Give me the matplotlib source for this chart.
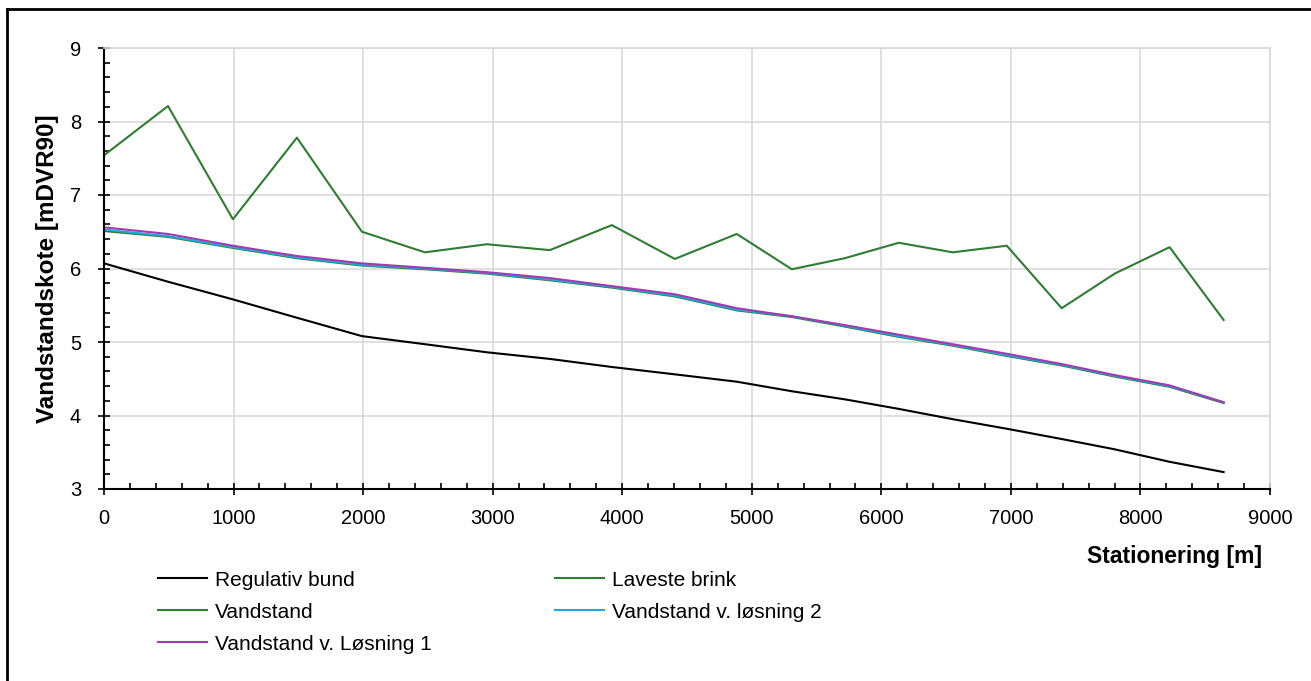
"""
Vandstandsprofil langs vandløbet: regulativ bund, laveste brink og
beregnede vandstande for eksisterende forhold og de to løsninger.
"""

import matplotlib.pyplot as plt
from matplotlib.lines import Line2D
from matplotlib.ticker import MultipleLocator

plt.rcParams["font.family"] = ["Liberation Sans", "DejaVu Sans"]

# Stationering [m]
station = [0, 494, 995, 1489, 1991, 2477, 2955, 3441, 3920, 4406,
           4884, 5309, 5718, 6134, 6551, 6968, 7392, 7801, 8225, 8642]

# Koter [mDVR90]
regulativ_bund = [6.07, 5.82, 5.58, 5.33, 5.08, 4.97, 4.86, 4.77, 4.66, 4.56,
                  4.46, 4.33, 4.22, 4.09, 3.95, 3.82, 3.68, 3.54, 3.37, 3.23]
laveste_brink = [7.54, 8.21, 6.67, 7.78, 6.50, 6.22, 6.33, 6.25, 6.59, 6.13,
                 6.47, 5.99, 6.14, 6.35, 6.22, 6.31, 5.46, 5.93, 6.29, 5.30]
vandstand = [6.51, 6.43, 6.28, 6.14, 6.04, 5.99, 5.93, 5.84, 5.74, 5.62,
             5.43, 5.34, 5.21, 5.07, 4.95, 4.81, 4.68, 4.53, 4.39, 4.17]
vandstand_l2 = [6.53, 6.44, 6.29, 6.15, 6.05, 6.00, 5.94, 5.85, 5.75, 5.63,
                5.44, 5.35, 5.22, 5.08, 4.96, 4.82, 4.69, 4.54, 4.40, 4.18]
vandstand_l1 = [6.56, 6.47, 6.31, 6.17, 6.07, 6.01, 5.95, 5.87, 5.76, 5.65,
                5.46, 5.35, 5.23, 5.10, 4.97, 4.84, 4.70, 4.55, 4.41, 4.18]

BLACK = "#000000"
GREEN = "#2e7d32"
BLUE = "#1ea7e1"
PURPLE = "#a23bb0"

fig = plt.figure(figsize=(13.11, 6.81), dpi=100)
ax = fig.add_axes([104 / 1311, 1 - 489 / 681, (1270 - 104) / 1311, (489 - 48) / 681])

ax.plot(station, regulativ_bund, color=BLACK, lw=1.5)
ax.plot(station, laveste_brink, color=GREEN, lw=1.5)
ax.plot(station, vandstand, color=GREEN, lw=1.5)
ax.plot(station, vandstand_l2, color=BLUE, lw=1.5)
ax.plot(station, vandstand_l1, color=PURPLE, lw=1.5)

ax.set_xlim(0, 9000)
ax.set_ylim(3, 9)
ax.xaxis.set_major_locator(MultipleLocator(1000))
ax.xaxis.set_minor_locator(MultipleLocator(200))
ax.yaxis.set_major_locator(MultipleLocator(1))
ax.yaxis.set_minor_locator(MultipleLocator(0.2))
ax.tick_params(which="major", direction="inout", length=9, width=1.2,
               labelsize=14.5, pad=10)
ax.tick_params(axis="y", which="major", pad=12)
ax.tick_params(which="minor", direction="in", length=4, width=1.2)
ax.grid(which="major", color="#d9d9d9", lw=1.2)
ax.set_axisbelow(True)

for side in ("top", "right"):
    ax.spines[side].set_color("#d9d9d9")
    ax.spines[side].set_linewidth(1.2)
for side in ("left", "bottom"):
    ax.spines[side].set_linewidth(1.5)

ax.set_ylabel("Vandstandskote [mDVR90]", fontsize=17.5, fontweight="bold", labelpad=8)
fig.text(1262 / 1311, 1 - 556 / 681, "Stationering [m]", fontsize=16.5,
         fontweight="bold", ha="right", va="center")

# Legenden udfyldes kolonnevis, så rækkefølgen stilles om for at læse rækkevis
handles = [
    Line2D([], [], color=BLACK, lw=1.5, label="Regulativ bund"),
    Line2D([], [], color=GREEN, lw=1.5, label="Vandstand"),
    Line2D([], [], color=PURPLE, lw=1.5, label="Vandstand v. Løsning 1"),
    Line2D([], [], color=GREEN, lw=1.5, label="Laveste brink"),
    Line2D([], [], color=BLUE, lw=1.5, label="Vandstand v. løsning 2"),
]
fig.legend(handles=handles, ncol=2, loc="upper left",
           bbox_to_anchor=(139 / 1311, 1 - 552 / 681), frameon=False,
           fontsize=15, handlelength=2.35, handletextpad=0.4,
           columnspacing=5.9, labelspacing=0.62)

# Ydre ramme
fig.add_artist(Line2D([7 / 1311, 7 / 1311], [0, 1 - 9 / 681], color=BLACK,
                      lw=2, transform=fig.transFigure))
fig.add_artist(Line2D([7 / 1311, 1], [1 - 9 / 681, 1 - 9 / 681], color=BLACK,
                      lw=2, transform=fig.transFigure))

fig.savefig("out.png", dpi=100)
